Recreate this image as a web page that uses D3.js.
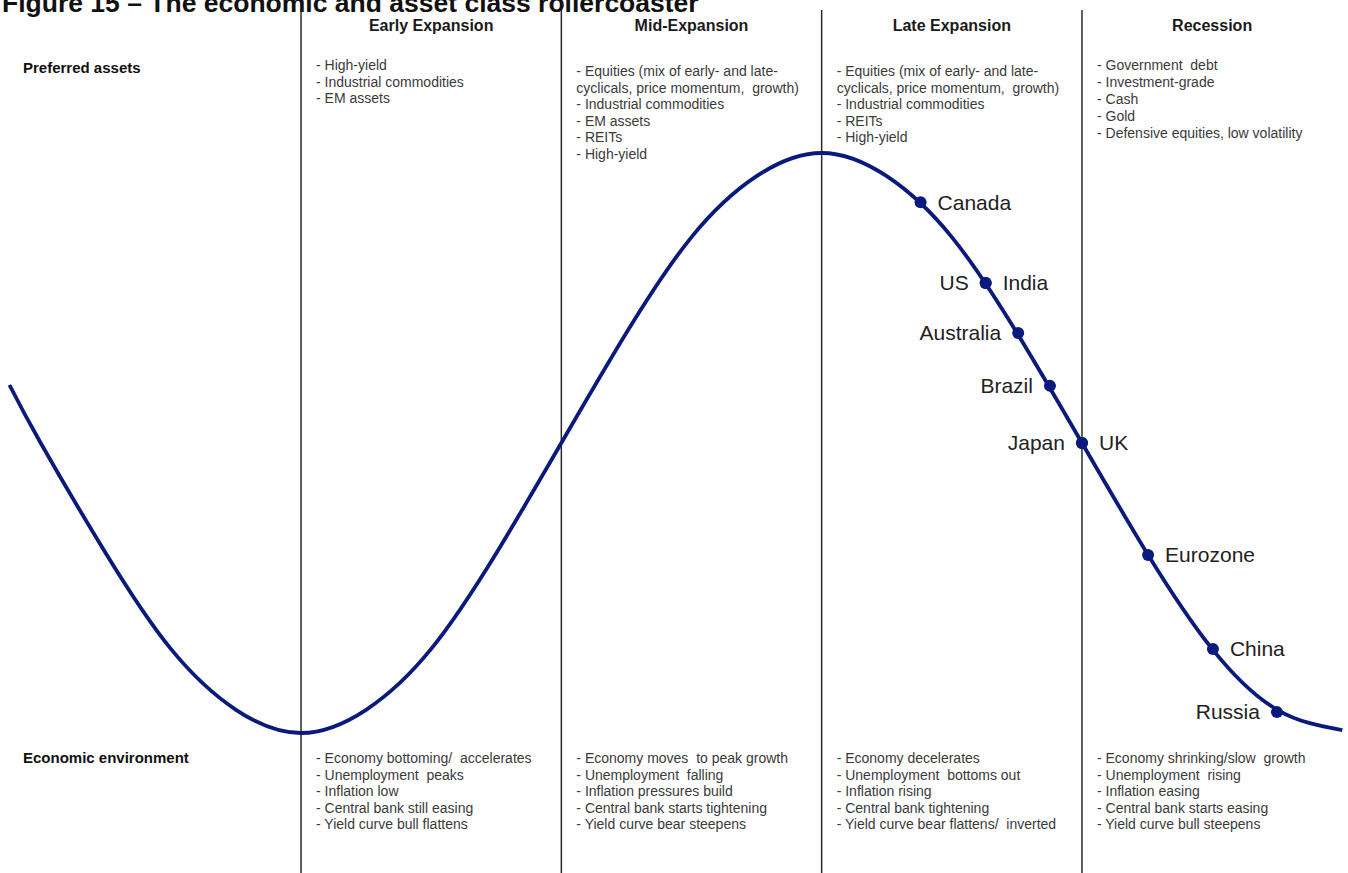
<!DOCTYPE html>
<html>
<head>
<meta charset="utf-8">
<script src="https://cdn.jsdelivr.net/npm/d3@7"></script>
<style>
  html, body { margin: 0; padding: 0; background: #fff; }
  svg { display: block; font-family: "Liberation Sans", Arial, Helvetica, sans-serif; }
</style>
</head>
<body>
<svg id="chart" width="1348" height="873"></svg>
<script>
// ---- Content -------------------------------------------------------------
const titleText = "Figure 15 \u2013 The economic and asset class rollercoaster";
const phaseNames = ["Early Expansion", "Mid-Expansion", "Late Expansion", "Recession"];
const rowLabels = ["Preferred assets", "Economic environment"];

const earlyAssets = ["- High-yield", "- Industrial commodities", "- EM assets"];
const midAssets = ["- Equities (mix of early- and late-", "cyclicals, price momentum,  growth)",
  "- Industrial commodities", "- EM assets", "- REITs", "- High-yield"];
const lateAssets = ["- Equities (mix of early- and late-", "cyclicals, price momentum,  growth)",
  "- Industrial commodities", "- REITs", "- High-yield"];
const recessionAssets = ["- Government  debt", "- Investment-grade", "- Cash", "- Gold",
  "- Defensive equities, low volatility"];

const earlyEnv = ["- Economy bottoming/  accelerates", "- Unemployment  peaks", "- Inflation low",
  "- Central bank still easing", "- Yield curve bull flattens"];
const midEnv = ["- Economy moves  to peak growth", "- Unemployment  falling", "- Inflation pressures build",
  "- Central bank starts tightening", "- Yield curve bear steepens"];
const lateEnv = ["- Economy decelerates", "- Unemployment  bottoms out", "- Inflation rising",
  "- Central bank tightening", "- Yield curve bear flattens/  inverted"];
const recessionEnv = ["- Economy shrinking/slow  growth", "- Unemployment  rising", "- Inflation easing",
  "- Central bank starts easing", "- Yield curve bull steepens"];

// Business-cycle path: position in the cycle (phase boundaries at 1..4) and activity level
const cyclePhase = [-0.12, 0, 0.25, 0.5, 0.75, 1, 1.25, 1.5, 1.75, 2, 2.25, 2.5, 2.75, 3,
  3.25, 3.5, 3.75, 4, 4.25, 4.5, 4.75, 5];
const cycleLevel = [0.2, 0, -0.38, -0.71, -0.92, -1, -0.92, -0.71, -0.38, 0, 0.38, 0.71, 0.92, 1,
  0.92, 0.71, 0.38, 0, -0.38, -0.71, -0.92, -0.99];

// Where each economy sits on the cycle
const countryNames = ["Canada", "US", "India", "Australia", "Brazil", "Japan", "UK", "Eurozone", "China", "Russia"];
const countryPhase = [3.38, 3.63, 3.63, 3.755, 3.877, 4.0, 4.0, 4.254, 4.503, 4.749];
const countryLevel = [0.83, 0.552, 0.552, 0.379, 0.197, 0, 0, -0.386, -0.71, -0.928];
const countrySide  = ["right", "left", "right", "left", "left", "left", "right", "right", "right", "left"];

// ---- Layout --------------------------------------------------------------
const W = 1348, H = 873;
const svg = d3.select("#chart");
svg.append("rect").attr("width", W).attr("height", H).attr("fill", "#fff");

const x = d3.scaleLinear().domain([0, 5]).range([40.7, 1342.3]);
const y = d3.scaleLinear().domain([-1, 1]).range([733, 153]);

const navy = "#0a1a7c";
const bodyColor = "#3a3a3a";

// Title, sitting hard against the top edge
svg.append("text")
  .attr("x", 2).attr("y", 12)
  .attr("font-size", 26.5).attr("font-weight", "bold").attr("fill", "#111")
  .text(titleText);

// Phase dividers
const boundaries = [1, 2, 3, 4];
svg.selectAll("line.divider").data(boundaries).join("line")
  .attr("class", "divider")
  .attr("x1", d => x(d)).attr("x2", d => x(d))
  .attr("y1", 10).attr("y2", H)
  .attr("stroke", "#2a2a2a").attr("stroke-width", 1.5);

// Phase headers
svg.selectAll("text.header").data(phaseNames).join("text")
  .attr("class", "header")
  .attr("x", (d, i) => (x(i + 1) + x(i + 2)) / 2)
  .attr("y", 31)
  .attr("text-anchor", "middle")
  .attr("font-size", 16).attr("font-weight", "bold").attr("fill", "#1a1a1a")
  .text(d => d);

// Row labels
svg.append("text").attr("x", 23).attr("y", 73)
  .attr("font-size", 15).attr("font-weight", "bold").attr("fill", "#111")
  .text(rowLabels[0]);
svg.append("text").attr("x", 23).attr("y", 763)
  .attr("font-size", 15).attr("font-weight", "bold").attr("fill", "#111")
  .text(rowLabels[1]);

// Text blocks for each phase
function block(lines, phaseIdx, top, step) {
  const g = svg.append("g");
  g.selectAll("text").data(lines).join("text")
    .attr("x", x(phaseIdx + 1) + 15)
    .attr("y", (d, i) => top + i * step)
    .attr("font-size", 14).attr("fill", bodyColor)
    .style("white-space", "pre")
    .text(d => d);
}
block(earlyAssets, 0, 70, 16.7);
block(midAssets, 1, 76, 16.6);
block(lateAssets, 2, 76, 16.6);
block(recessionAssets, 3, 70, 17);

[earlyEnv, midEnv, lateEnv, recessionEnv].forEach((lines, i) => block(lines, i, 763, 16.6));

// The cycle curve
const cycle = cyclePhase.map((p, i) => [p, cycleLevel[i]]);
const line = d3.line().x(d => x(d[0])).y(d => y(d[1])).curve(d3.curveNatural);
svg.append("path")
  .datum(cycle)
  .attr("d", line)
  .attr("fill", "none")
  .attr("stroke", navy)
  .attr("stroke-width", 3.8);

// Country markers and labels
const countries = countryNames.map((n, i) => ({ name: n, p: countryPhase[i], v: countryLevel[i], side: countrySide[i] }));
svg.selectAll("circle.country").data(countries).join("circle")
  .attr("class", "country")
  .attr("cx", d => x(d.p)).attr("cy", d => y(d.v))
  .attr("r", 6).attr("fill", navy);

svg.selectAll("text.country").data(countries).join("text")
  .attr("class", "country")
  .attr("x", d => x(d.p) + (d.side === "right" ? 17 : -17))
  .attr("y", d => y(d.v))
  .attr("dy", "0.35em")
  .attr("text-anchor", d => d.side === "right" ? "start" : "end")
  .attr("font-size", 21).attr("fill", "#222")
  .text(d => d.name);
</script>
</body>
</html>
